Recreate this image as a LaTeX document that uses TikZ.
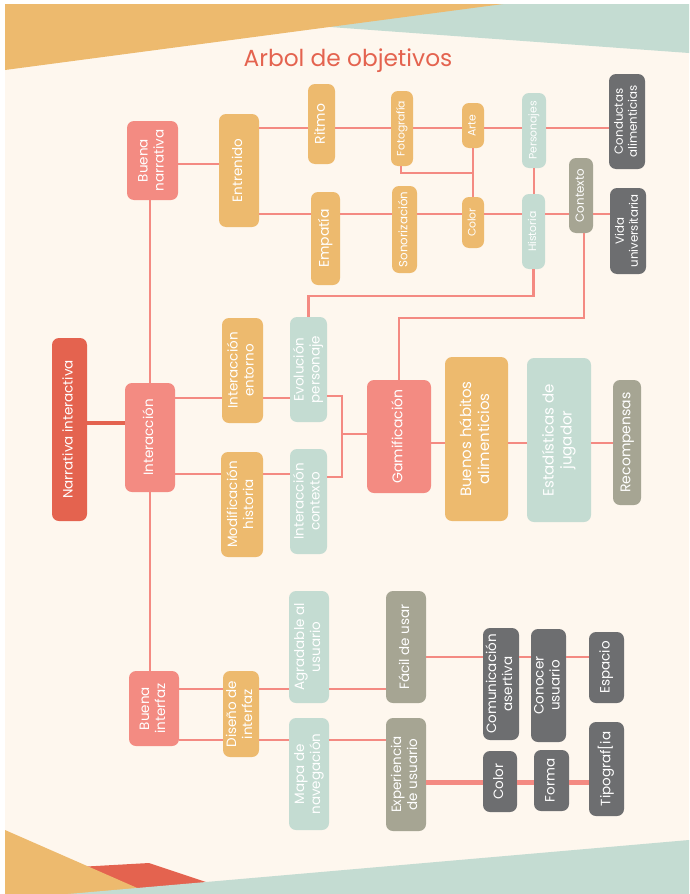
\documentclass[tikz,border=0pt]{standalone}
\usepackage{fontspec}
\setmainfont{Poppins}
\usepackage{graphicx}
\usepackage{tikz}

\definecolor{crema}{HTML}{FEF7EE}
\definecolor{naranja}{HTML}{EDBA6E}
\definecolor{verde}{HTML}{C4DCD2}
\definecolor{rojo}{HTML}{E4634F}
\definecolor{rosa}{HTML}{F38B82}
\definecolor{oliva}{HTML}{A6A593}
\definecolor{gris}{HTML}{6D6E70}
\definecolor{linea}{HTML}{F48A82}

\newcommand{\vtext}[1]{\rotatebox{90}{\begin{tabular}{@{}c@{}}#1\end{tabular}}}

\tikzset{
  caja/.style={rounded corners=7pt, inner sep=0pt, text=white, font=\fontsize{13.5}{16}\selectfont},
  chica/.style={font=\fontsize{10.8}{13}\selectfont},
  media/.style={font=\fontsize{11.8}{14}\selectfont},
  grande/.style={font=\fontsize{14}{17}\selectfont},
  mayor/.style={font=\fontsize{15}{18}\selectfont},
  tam/.style 2 args={minimum width=#1pt, minimum height=#2pt},
  cajaroja/.style={caja, fill=rojo},
  cajarosa/.style={caja, fill=rosa},
  cajanaranja/.style={caja, fill=naranja},
  cajaverde/.style={caja, fill=verde},
  cajaoliva/.style={caja, fill=oliva},
  cajagris/.style={caja, fill=gris},
  enlace/.style={draw=linea, line width=2.6pt},
}

\begin{document}
\begin{tikzpicture}[x=1pt,y=-1pt]
\useasboundingbox (0,0) rectangle (689,894);
% fondo
\fill[white] (0,0) rectangle (689,894);
\fill[crema] (5,4) rectangle (689,894);
\fill[verde] (200,4)--(689,4)--(689,53)--(200,17.6)--cycle;
\fill[naranja] (5,4)--(503,4)--(5,70)--cycle;
\fill[rojo] (60,868)--(149,863)--(242,894)--(60,894)--cycle;
\fill[naranja] (5,830)--(151,894)--(5,894)--cycle;
\fill[verde] (68,894)--(689,840)--(689,894)--cycle;

\node[text=rojo, font=\fontsize{23.3}{26}\selectfont] (titulo) at (348,61) {Arbol de objetivos};

% nivel 1 y 2
\node[cajaroja, tam={35}{183}] (narr) at (69.5,429.5) {\vtext{Narrativa interactiva}};
\node[cajarosa, tam={50}{109}] (inter) at (150,437.5) {\vtext{Interacción}};
\node[cajarosa, tam={51}{79}] (bnarr) at (152.5,160.5) {\vtext{Buena\\narrativa}};
\node[cajarosa, tam={50}{75}] (binter) at (154,708.5) {\vtext{Buena\\interfaz}};

% buena narrativa
\node[cajanaranja, tam={40}{113}] (entr) at (239,170.5) {\vtext{Entrenido}};
\node[cajanaranja, grande, tam={27}{80}] (ritmo) at (321.5,124) {\vtext{Ritmo}};
\node[cajanaranja, grande, tam={29}{93}] (empatia) at (325.5,238.5) {\vtext{Empatía}};
\node[cajanaranja, chica, tam={22}{75}] (foto) at (402,128.5) {\vtext{Fotografía}};
\node[cajanaranja, chica, tam={22}{45}] (arte) at (473,125.5) {\vtext{Arte}};
\node[cajaverde, chica, tam={24}{75}] (perso) at (534,130.5) {\vtext{Personajes}};
\node[cajagris, media, tam={36}{95}] (conduc) at (627,121.5) {\vtext{Conductas\\alimenticias}};
\node[cajanaranja, media, tam={25}{87}] (sonor) at (404.5,229.5) {\vtext{Sonorización}};
\node[cajanaranja, chica, tam={22}{51}] (color1) at (473,222.5) {\vtext{Color}};
\node[cajaverde, chica, tam={23}{75}] (hist) at (533.5,231.5) {\vtext{Historia}};
\node[cajaoliva, media, tam={24}{75}] (contexto) at (581,195.5) {\vtext{Contexto}};
\node[cajagris, media, tam={36}{86}] (vida) at (628,231) {\vtext{Vida\\universitaria}};

% interaccion
\node[cajanaranja, tam={41}{105}] (ient) at (242.5,370.5) {\vtext{Interacción\\entorno}};
\node[cajaverde, tam={37}{105}] (evol) at (308.5,369.5) {\vtext{Evolución\\personaje}};
\node[cajanaranja, tam={42}{105}] (modhist) at (242,504.5) {\vtext{Modificación\\historia}};
\node[cajaverde, tam={37}{105}] (icont) at (308.5,501.5) {\vtext{Interacción\\contexto}};
\node[cajarosa, grande, tam={64}{113}] (gamif) at (399,436.5) {\vtext{Gamificación}};
\node[cajanaranja, mayor, tam={63}{164}] (buenos) at (476.5,439) {\vtext{Buenos hábitos\\alimenticios}};
\node[cajaverde, mayor, tam={64}{164}] (estad) at (559,440) {\vtext{Estadísticas de\\jugador}};
\node[cajaoliva, grande, tam={28}{125}] (recomp) at (627,442.5) {\vtext{Recompensas}};

% buena interfaz
\node[cajanaranja, tam={36}{86}] (disint) at (241,714) {\vtext{Diseño de\\interfaz}};
\node[cajaverde, tam={40}{112}] (agrad) at (309,647) {\vtext{Agradable al\\usuario}};
\node[cajaverde, tam={40}{112}] (mapa) at (309,774) {\vtext{Mapa de\\navegación}};
\node[cajaoliva, tam={40}{112}] (facil) at (406,647) {\vtext{Fácil de usar}};
\node[cajaoliva, tam={40}{113}] (exper) at (406,774.5) {\vtext{Experiencia\\de usuario}};
\node[cajagris, tam={36}{112}] (comun) at (501,684) {\vtext{Comunicación\\asertiva}};
\node[cajagris, tam={35}{113}] (conocer) at (548.5,685.5) {\vtext{Conocer\\usuario}};
\node[cajagris, tam={35}{71}] (espacio) at (606.5,667.5) {\vtext{Espacio}};
\node[cajagris, tam={34}{61}] (color2) at (500,781.5) {\vtext{Color}};
\node[cajagris, tam={35}{61}] (forma) at (551.5,780.5) {\vtext{Forma}};
\node[cajagris, tam={35}{94}] (tipo) at (606.5,769) {\vtext{Tipograf[ia}};

% conexiones
\draw[enlace, draw=rojo, line width=3.2pt] (narr.east |- 0,423) -- (inter.west |- 0,423);
\draw[enlace] (bnarr.south -| inter.north) -- (inter.north);
\draw[enlace] (inter.south) -- (inter.south |- binter.north);
\draw[enlace] (bnarr.east |- 0,164) -- (entr.west |- 0,164);

\draw[enlace] (entr.east |- 0,128) -- (ritmo.west |- 0,128);
\draw[enlace] (ritmo.east |- 0,128) -- (foto.west |- 0,128);
\draw[enlace] (foto.east |- 0,128) -- (arte.west |- 0,128);
\draw[enlace] (arte.east |- 0,128) -- (perso.west |- 0,128);
\draw[enlace] (perso.east |- 0,128) -- (conduc.west |- 0,128);

\draw[enlace] (entr.east |- 0,214) -- (empatia.west |- 0,214);
\draw[enlace] (empatia.east |- 0,214) -- (sonor.west |- 0,214);
\draw[enlace] (sonor.east |- 0,214) -- (color1.west |- 0,214);
\draw[enlace] (color1.east |- 0,214) -- (hist.west |- 0,214);
\draw[enlace] (hist.east |- 0,214) -- (contexto.west |- 0,214);
\draw[enlace] (contexto.east |- 0,214) -- (vida.west |- 0,214);

\draw[enlace] ([xshift=-1pt]foto.south) |- (arte.south |- 0,173);
\draw[enlace] (arte.south) -- (color1.north);
\draw[enlace] (perso.south) -- (perso.south |- hist.north);
\draw[enlace] (hist.south) |- (evol.north |- 0,296) -- (evol.north);
\draw[enlace] ([xshift=3pt]contexto.south) |- (gamif.north |- 0,318) -- (gamif.north);

\draw[enlace] (inter.east |- 0,398) -- (ient.west |- 0,398);
\draw[enlace] (ient.east |- 0,398) -- (evol.west |- 0,398);
\draw[enlace] (inter.east |- 0,474) -- (modhist.west |- 0,474);
\draw[enlace] (modhist.east |- 0,474) -- (icont.west |- 0,474);
\coordinate (llave) at (342,434);
\draw[enlace] (evol.east |- 0,396) -| (llave) |- (icont.east |- 0,477);
\draw[enlace] (llave) -- (gamif.west |- llave);
\draw[enlace] (gamif.east |- 0,443) -- (buenos.west |- 0,443);
\draw[enlace] (buenos.east |- 0,443) -- (estad.west |- 0,443);
\draw[enlace] (estad.east |- 0,443) -- (recomp.west |- 0,443);

\draw[enlace] (binter.east |- 0,689) -- (disint.west |- 0,689);
\draw[enlace] (binter.east |- 0,740) -- (disint.west |- 0,740);
\draw[enlace] (disint.east |- 0,689) -- (agrad.west |- 0,689);
\draw[enlace] (agrad.east |- 0,689) -- (facil.west |- 0,689);
\draw[enlace] (disint.east |- 0,740) -- (mapa.west |- 0,740);
\draw[enlace] (mapa.east |- 0,740) -- (exper.west |- 0,740);
\draw[enlace] (facil.east |- 0,657) -- (comun.west |- 0,657);
\draw[enlace] (comun.east |- 0,657) -- (conocer.west |- 0,657);
\draw[enlace] (conocer.east |- 0,657) -- (espacio.west |- 0,657);
\draw[enlace, line width=5pt] (exper.east |- 0,782) -- (color2.west |- 0,782);
\draw[enlace, line width=5pt] (color2.east |- 0,782) -- (forma.west |- 0,782);
\draw[enlace, line width=5pt] (forma.east |- 0,782) -- (tipo.west |- 0,782);

\end{tikzpicture}
\end{document}
